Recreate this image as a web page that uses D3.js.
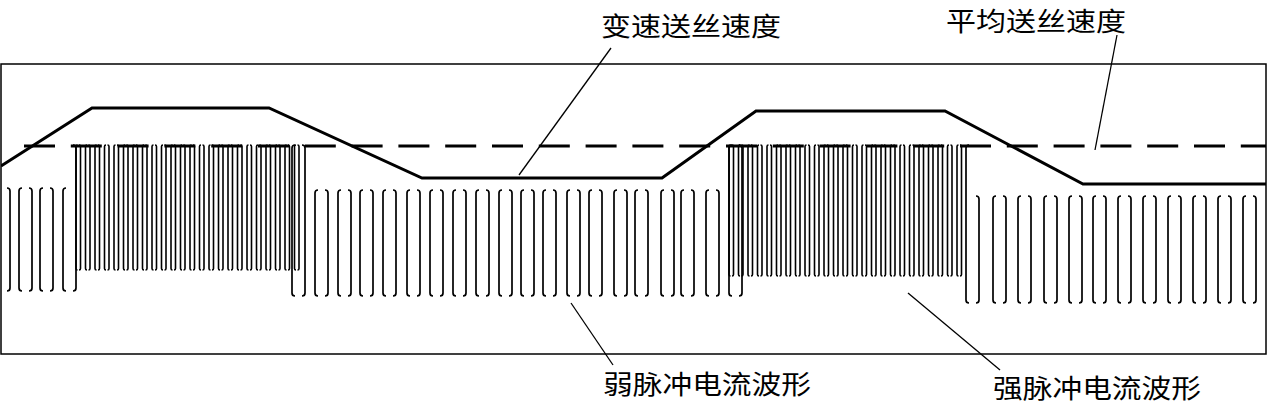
<!DOCTYPE html>
<html><head><meta charset="utf-8">
<script src="https://cdn.jsdelivr.net/npm/d3@7"></script>
<style>html,body{margin:0;padding:0;background:#fff;}svg{display:block;}</style>
</head><body>
<svg id="chart" width="1269" height="406"></svg>
<script>
// ---- data (time and amplitude in arbitrary schematic units) ----
const timeDomain = [0, 1265];
const ampDomain = [0, 290];

const speedTime  = [0, 91, 268, 421, 661, 755, 944, 1082, 1265];
const speedValue = [188, 246, 246, 176, 176, 243, 243, 170, 170];

const avgSpeedValue = 208;
const avgSpeedStart = 23;

const weakPulseStarts = [
  [-4, 18, 39, 62],
  [314, 337, 359, 382, 406, 429, 452, 475, 498, 520, 542, 566, 588, 613, 634, 660, 680, 705],
  [965, 992, 1017, 1043, 1068, 1092, 1117, 1142, 1167, 1192, 1217, 1242]
];
const weakPulseWidth = 13;
const weakPeak = [166, 164, 158];
const weakBase = [63, 58, 51];

// edges of weak pulses that rise up to the strong-pulse peak
const risingEdges = [
  {group: 0, index: 3, side: "right", strong: 0},
  {group: 2, index: 0, side: "left",  strong: 1}
];
// tall transition pulses (strong peak down to weak base of middle group)
const tallPulseStarts = [291, 728];
const tallPulseWidth = 13;

const strongPulseStarts = [
  [75, 84.5, 94, 103.5, 113, 122.5, 132, 141.5, 151, 160.5, 170, 179.5, 189, 198.5, 208, 217.5, 227, 236.5, 246, 255.5, 265, 274.5, 284, 293.5],
  [728, 737.5, 747, 756.5, 766, 775.5, 785, 794.5, 804, 813.5, 823, 832.5, 842, 851.5, 861, 870.5, 880, 889.5, 899, 908.5, 918, 927.5, 937, 946.5, 956]
];
const strongPulseWidth = 4.5;
const strongPeak = [209, 209];
const strongBase = [84, 78];

const labels = [
  {text: "变速送丝速度", t: 600, a: 318, len: 180},
  {text: "平均送丝速度", t: 945, a: 323.5, len: 180},
  {text: "弱脉冲电流波形", t: 602, a: -40, len: 208},
  {text: "强脉冲电流波形", t: 992, a: -43.5, len: 208}
];
const leaders = [
  [[610, 306], [518, 179]],
  [[1116, 319], [1094, 204]],
  [[570, 51], [612, -11]],
  [[907, 61], [999, -16]]
];

// ---- drawing ----
const svg = d3.select("#chart");
const x = d3.scaleLinear().domain(timeDomain).range([1, 1266]);
const y = d3.scaleLinear().domain(ampDomain).range([354, 64]);

svg.append("defs").append("clipPath").attr("id", "clip")
  .append("rect")
  .attr("x", x(timeDomain[0])).attr("y", y(ampDomain[1]))
  .attr("width", x(timeDomain[1]) - x(timeDomain[0]))
  .attr("height", y(ampDomain[0]) - y(ampDomain[1]));

const g = svg.append("g").attr("clip-path", "url(#clip)");

function side(xx, top, bot, dir, r) {
  const p = d3.path();
  p.moveTo(xx + dir * r, top);
  p.quadraticCurveTo(xx, top, xx, top + r);
  p.lineTo(xx, bot - r);
  p.quadraticCurveTo(xx, bot, xx + dir * r, bot);
  return p.toString();
}

function drawPulse(t0, w, peakL, peakR, base, r, sw) {
  const x0 = x(t0), x1 = x(t0 + w);
  g.append("path").attr("d", side(x0, y(peakL), y(base), 1, r))
    .attr("fill", "none").attr("stroke", "#000").attr("stroke-width", sw);
  g.append("path").attr("d", side(x1, y(peakR), y(base), -1, r))
    .attr("fill", "none").attr("stroke", "#000").attr("stroke-width", sw);
}

// weak pulses
weakPulseStarts.forEach((grp, gi) => {
  grp.forEach((t0, i) => {
    let pl = weakPeak[gi], pr = weakPeak[gi];
    risingEdges.forEach(e => {
      if (e.group === gi && e.index === i) {
        if (e.side === "left") pl = strongPeak[e.strong]; else pr = strongPeak[e.strong];
      }
    });
    drawPulse(t0, weakPulseWidth, pl, pr, weakBase[gi], 3, 1.7);
  });
});

// tall transition pulses
tallPulseStarts.forEach((t0, i) => {
  drawPulse(t0, tallPulseWidth, strongPeak[i], strongPeak[i], weakBase[1], 3, 1.7);
});

// strong pulses
strongPulseStarts.forEach((grp, gi) => {
  grp.forEach(t0 => {
    drawPulse(t0, strongPulseWidth, strongPeak[gi], strongPeak[gi], strongBase[gi], 1.5, 1.6);
  });
});

// average wire-feed speed (dashed)
g.append("line")
  .attr("x1", x(avgSpeedStart)).attr("x2", x(timeDomain[1]))
  .attr("y1", y(avgSpeedValue)).attr("y2", y(avgSpeedValue))
  .attr("stroke", "#000").attr("stroke-width", 3)
  .attr("stroke-dasharray", "31 15.8");

// variable wire-feed speed
const speedData = speedTime.map((t, i) => [t, speedValue[i]]);
g.append("path")
  .attr("d", d3.line().x(d => x(d[0])).y(d => y(d[1]))(speedData))
  .attr("fill", "none").attr("stroke", "#000").attr("stroke-width", 3)
  .attr("stroke-linejoin", "miter");

// frame
svg.append("rect")
  .attr("x", x(timeDomain[0])).attr("y", y(ampDomain[1]))
  .attr("width", x(timeDomain[1]) - x(timeDomain[0]))
  .attr("height", y(ampDomain[0]) - y(ampDomain[1]))
  .attr("fill", "none").attr("stroke", "#000").attr("stroke-width", 1.5);

// leaders
leaders.forEach(l => {
  svg.append("line")
    .attr("x1", x(l[0][0])).attr("y1", y(l[0][1]))
    .attr("x2", x(l[1][0])).attr("y2", y(l[1][1]))
    .attr("stroke", "#000").attr("stroke-width", 1.3);
});

// labels
labels.forEach(l => {
  svg.append("text")
    .attr("x", x(l.t)).attr("y", y(l.a))
    .attr("textLength", l.len).attr("lengthAdjust", "spacingAndGlyphs")
    .attr("font-family", "'Noto Sans CJK SC', 'Noto Sans', sans-serif")
    .attr("font-size", 26).attr("fill", "#000")
    .text(l.text);
});
</script>
</body></html>
